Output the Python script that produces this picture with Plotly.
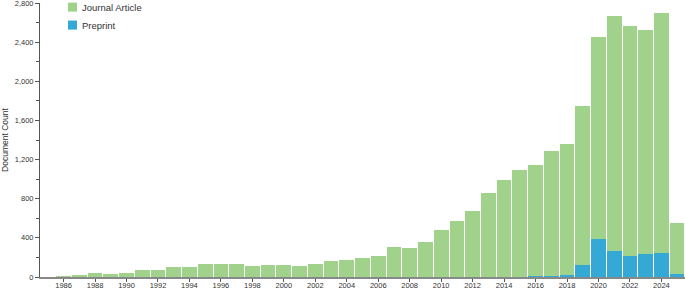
import plotly.graph_objects as go

years = list(range(1985, 2026))

preprint = [0, 0, 0, 0, 0, 0, 0, 0, 0, 0,
            0, 0, 0, 0, 0, 0, 0, 0, 0, 0,
            0, 0, 0, 0, 0, 0, 0, 0, 0, 3,
            4, 6, 10, 22, 123, 392, 269, 218, 235, 249,
            34]

journal = [0, 4, 15, 36, 35, 45, 68, 70, 106, 106,
           137, 130, 135, 113, 127, 127, 109, 130, 164, 171,
           191, 219, 308, 294, 359, 479, 568, 670, 855, 988,
           1086, 1143, 1279, 1340, 1622, 2058, 2403, 2342, 2293, 2453,
           520]

series_names = ["Preprint", "Journal Article"]
colors = {"Journal Article": "#a1d28b", "Preprint": "#35a9d6"}

x_tickvals = list(range(1986, 2025, 2))
y_tickvals = list(range(0, 2801, 400))
y_ticktext = [f"{v:,}" for v in y_tickvals]

FONT = "Liberation Sans, Arial, Helvetica, sans-serif"

fig = go.Figure()
fig.add_trace(go.Bar(x=years, y=preprint, name="Preprint",
                     marker=dict(color=colors["Preprint"], line=dict(width=0)),
                     showlegend=False))
fig.add_trace(go.Bar(x=years, y=journal, name="Journal Article",
                     marker=dict(color=colors["Journal Article"], line=dict(width=0)),
                     showlegend=False))

# manual legend (squares + labels)
legend_items = ["Journal Article", "Preprint"]
for i, name in enumerate(legend_items):
    yc = 0.985 - i * 0.0655
    fig.add_shape(type="rect", xref="paper", yref="paper",
                  x0=(68 - 40) / 645, x1=(77 - 40) / 645,
                  y0=yc - 0.0165, y1=yc + 0.0165,
                  fillcolor=colors[name], line=dict(width=0))
    fig.add_annotation(xref="paper", yref="paper", x=(80 - 40) / 645, y=yc,
                       text=name, showarrow=False, xanchor="left", yanchor="middle",
                       font=dict(family=FONT, size=9.5, color="#333333"))

fig.update_layout(
    width=685, height=290,
    margin=dict(l=40, r=0, t=3, b=13, autoexpand=False),
    barmode="stack", bargap=0.065,
    plot_bgcolor="white", paper_bgcolor="white",
    font=dict(family=FONT, size=7.5, color="#333333"),
    xaxis=dict(range=[1984.5, 2025.5], tickvals=x_tickvals,
               ticks="outside", ticklen=3, tickcolor="#555555", tickwidth=1,
               ticklabelstandoff=-3,
               showline=True, linecolor="#888888", linewidth=1.5,
               showgrid=False, zeroline=False, automargin=False,
               tickfont=dict(family=FONT, size=7.5, color="#333333")),
    yaxis=dict(range=[0, 2800], tickvals=y_tickvals, ticktext=y_ticktext,
               ticks="outside", ticklen=4, tickcolor="#555555", tickwidth=1,
               ticklabeloverflow="allow",
               minor=dict(dtick=200, ticks="outside", ticklen=3, tickcolor="#555555"),
               showline=True, linecolor="#555555", linewidth=1,
               showgrid=False, zeroline=False, automargin=False,
               tickfont=dict(family=FONT, size=7.5, color="#333333"),
               title=dict(text="Document Count", standoff=6,
                          font=dict(family=FONT, size=8.5, color="#333333"))),
)

fig.write_html("out.html", config={"displayModeBar": False},
               post_script="document.body.style.margin='0';")
